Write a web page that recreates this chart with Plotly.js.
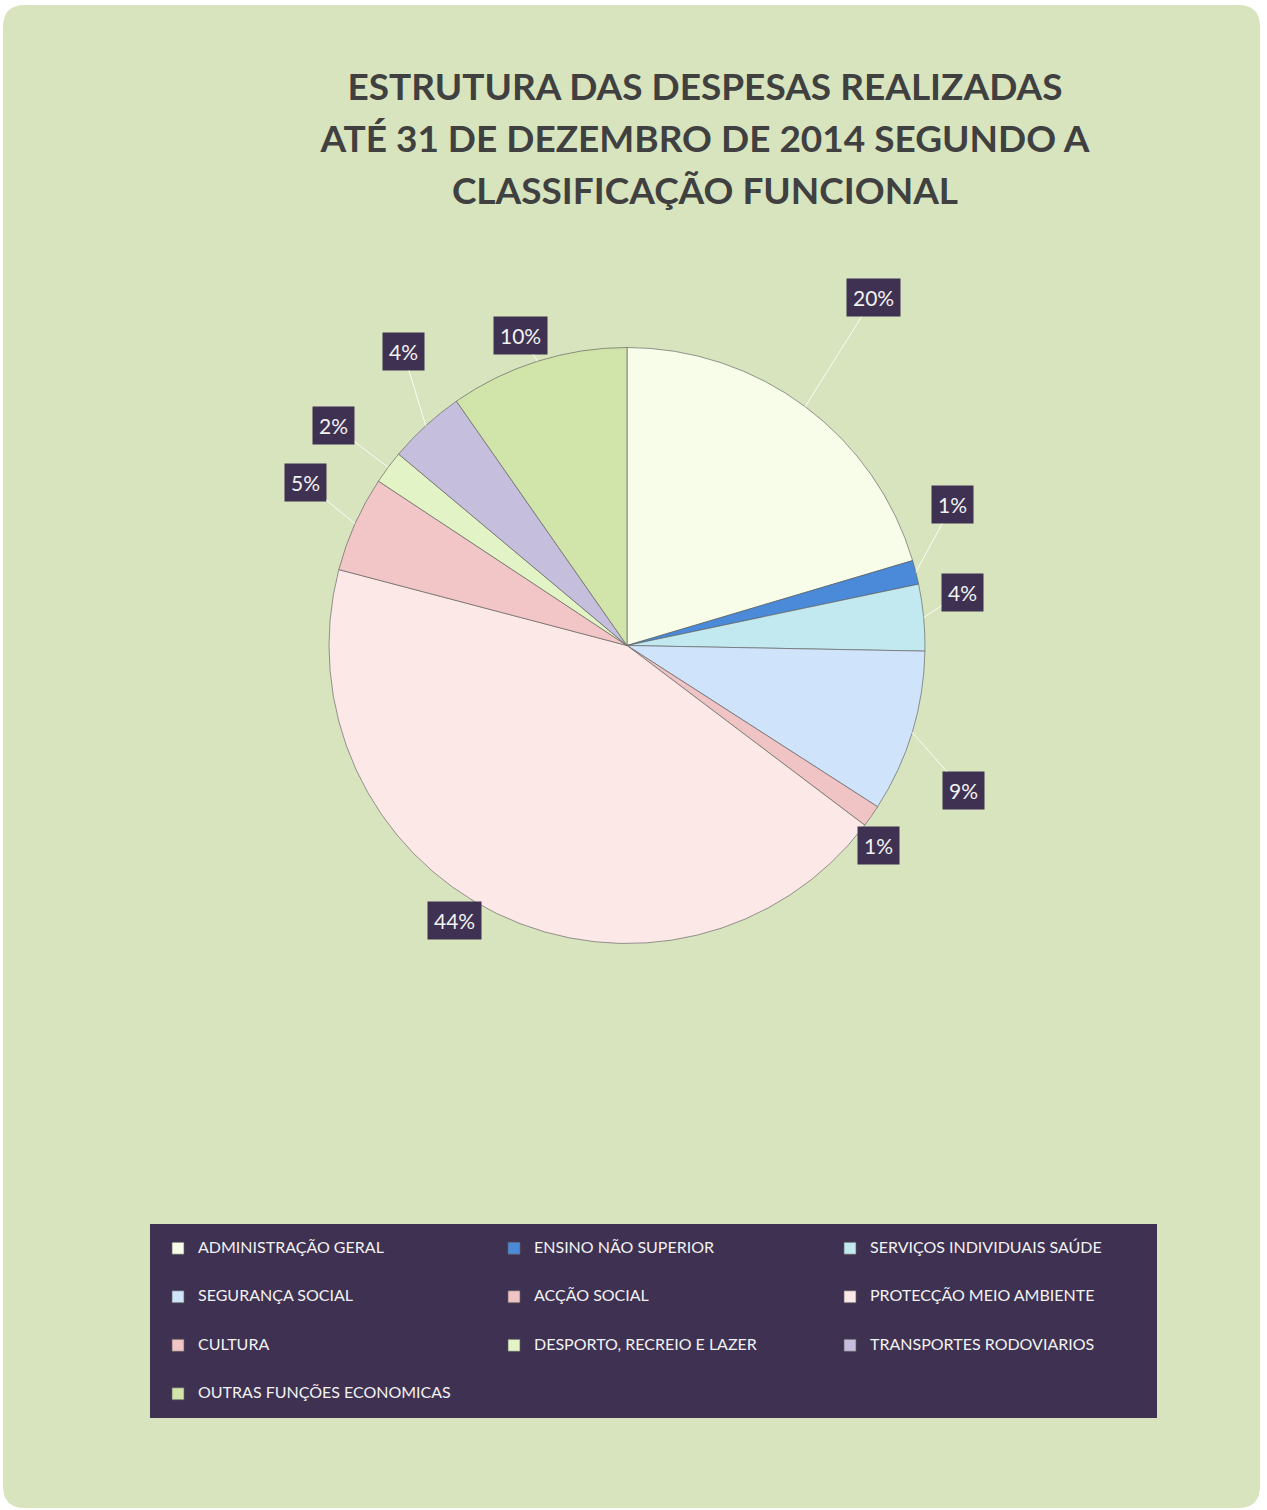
<!DOCTYPE html>
<html>
<head>
<meta charset="utf-8">
<script src="https://cdn.plot.ly/plotly-3.0.1.min.js"></script>
<style>
html,body{margin:0;padding:0;background:#ffffff;}
#chart{width:1267px;height:1510px;}
</style>
</head>
<body>
<div id="chart"></div>
<script>
// ---- data ----
const categories = [
  "ADMINISTRAÇÃO GERAL",
  "ENSINO NÃO SUPERIOR",
  "SERVIÇOS INDIVIDUAIS SAÚDE",
  "SEGURANÇA SOCIAL",
  "ACÇÃO SOCIAL",
  "PROTECÇÃO MEIO AMBIENTE",
  "CULTURA",
  "DESPORTO, RECREIO E LAZER",
  "TRANSPORTES RODOVIARIOS",
  "OUTRAS FUNÇÕES ECONOMICAS"
];
const shares = [20.4, 1.3, 3.6, 8.8, 1.2, 43.8, 5.2, 1.8, 4.2, 9.7];

// ---- styles ----
const sliceColors = ["#f7fde8", "#4a8ad8", "#c2e9f0", "#cfe3fb", "#f0c4c4",
                     "#fde8e8", "#f2c6c6", "#e2f4c6", "#c5bedd", "#d1e4a9"];
const labelAngleShift = [-1.4, -9.2, -3.6, 6.4, 3.6, 6.1, 2.7, 0.1, 5.2, -1.5];
const labelRadius = [1.43, 1.19, 1.14, 1.23, 1.08, 1.09, 1.21, 1.23, 1.24, 1.10];
const labelLeader = [true, true, true, true, false, false, true, true, true, true];

const W = 1267, H = 1510;
const CX = 627, CY = 645.5, R = 298;
const BOX = "#3f3151";
const LIGHT = "#f2f2f2";

const total = shares.reduce((a, b) => a + b, 0);
const pctText = shares.map(v => Math.round(v / total * 100) + "%");

// annotations for the percentage labels, computed from the slice angles
const annotations = [];
let cum = 0;
shares.forEach((v, i) => {
  const mid = (cum + v / 2) / total * 360;
  cum += v;
  const phi = (mid + labelAngleShift[i]) * Math.PI / 180;
  const th = mid * Math.PI / 180;
  const lx = CX + labelRadius[i] * R * Math.sin(phi);
  const ly = CY - labelRadius[i] * R * Math.cos(phi);
  const base = {
    xref: "paper", yref: "paper",
    text: pctText[i],
    bgcolor: BOX, borderpad: 6,
    font: {family: "Lato", size: 21, color: LIGHT}
  };
  if (labelLeader[i]) {
    const ex = CX + R * Math.sin(th);
    const ey = CY - R * Math.cos(th);
    annotations.push(Object.assign(base, {
      x: ex / W, y: 1 - ey / H,
      ax: lx - ex, ay: ly - ey,
      showarrow: true, arrowhead: 0, arrowwidth: 1, standoff: 0,
      arrowcolor: "rgba(255,255,255,0.9)"
    }));
  } else {
    annotations.push(Object.assign(base, {
      x: lx / W, y: 1 - ly / H, xanchor: "center", yanchor: "middle",
      showarrow: false
    }));
  }
});

function roundRect(x0, y0, x1, y1, r) {
  const X = p => p / W, Y = p => 1 - p / H;
  return "M" + X(x0 + r) + "," + Y(y0) +
    " L" + X(x1 - r) + "," + Y(y0) +
    " Q" + X(x1) + "," + Y(y0) + " " + X(x1) + "," + Y(y0 + r) +
    " L" + X(x1) + "," + Y(y1 - r) +
    " Q" + X(x1) + "," + Y(y1) + " " + X(x1 - r) + "," + Y(y1) +
    " L" + X(x0 + r) + "," + Y(y1) +
    " Q" + X(x0) + "," + Y(y1) + " " + X(x0) + "," + Y(y1 - r) +
    " L" + X(x0) + "," + Y(y0 + r) +
    " Q" + X(x0) + "," + Y(y0) + " " + X(x0 + r) + "," + Y(y0) + " Z";
}

// legend entries: padded with blank lines so rows get the reference spacing
const legendLabels = categories.map(c =>
  "\u00a0<br><span style='font-size:16px'>" + c + "</span><br>\u00a0");

const trace = {
  type: "pie",
  labels: legendLabels,
  values: shares,
  sort: false,
  direction: "clockwise",
  rotation: 0,
  textinfo: "none",
  hovertemplate: "%{percent}<extra></extra>",
  marker: {colors: sliceColors, line: {color: "rgba(95,95,95,0.65)", width: 1}},
  domain: {x: [(CX - R) / W, (CX + R) / W], y: [1 - (CY + R) / H, 1 - (CY - R) / H]}
};

const layout = {
  width: W, height: H,
  margin: {l: 0, r: 0, t: 0, b: 0},
  paper_bgcolor: "#ffffff",
  title: {
    text: "<span style='font-size:37px'>ESTRUTURA DAS DESPESAS REALIZADAS</span><br>" +
          "<span style='font-size:37px'>ATÉ 31 DE DEZEMBRO DE 2014 SEGUNDO A</span><br>" +
          "<span style='font-size:37px'>CLASSIFICAÇÃO FUNCIONAL</span>",
    font: {family: "Lato", size: 40, color: "#404040", weight: "bold"},
    x: 705 / W, xanchor: "center", xref: "paper",
    y: 1 - 100 / H, yanchor: "middle", yref: "paper"
  },
  showlegend: true,
  legend: {
    orientation: "h",
    x: 158 / W, xanchor: "left",
    y: 1 - 1219 / H, yanchor: "top",
    bgcolor: "rgba(0,0,0,0)",
    font: {family: "Lato", size: 11.67, color: LIGHT},
    entrywidth: 291, entrywidthmode: "pixels",
    traceorder: "normal"
  },
  shapes: [
    {type: "path", xref: "paper", yref: "paper", layer: "below",
     path: roundRect(3, 5, 1260, 1508, 22),
     fillcolor: "#d7e4bd", line: {width: 0}},
    {type: "rect", xref: "paper", yref: "paper", layer: "below",
     x0: 150 / W, x1: 1157 / W, y0: 1 - 1418 / H, y1: 1 - 1224 / H,
     fillcolor: BOX, line: {width: 0}}
  ],
  annotations: annotations
};

Plotly.newPlot("chart", [trace], layout, {displayModeBar: false, responsive: false});
</script>
</body>
</html>
